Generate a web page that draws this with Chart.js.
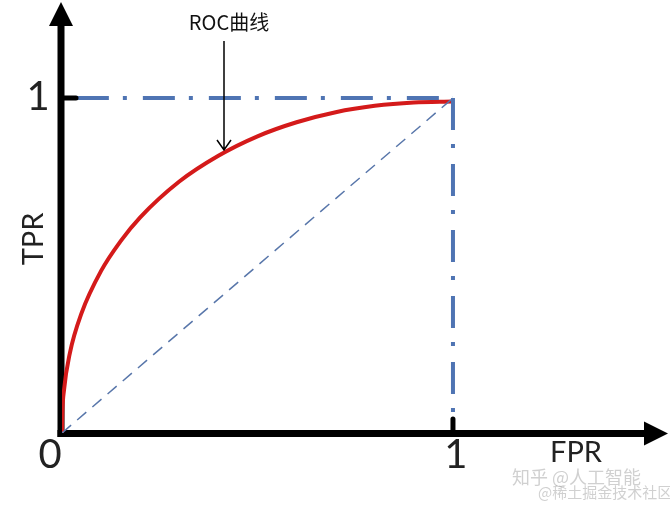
<!DOCTYPE html>
<html>
<head>
<meta charset="utf-8">
<script src="https://cdn.jsdelivr.net/npm/chart.js@4"></script>
<style>
  body { margin: 0; background: #fff; }
</style>
</head>
<body>
<canvas id="rocChart" width="670" height="507"></canvas>
<script>
// ROC curve (FPR -> TPR), smoothed by hand
const rocFpr = [0, 0.001, 0.005, 0.02, 0.05, 0.1, 0.15, 0.2, 0.3, 0.4, 0.5, 0.6, 0.7, 0.8, 0.9, 1];
const rocTpr = [0, 0.061, 0.127, 0.238, 0.358, 0.484, 0.573, 0.644, 0.751, 0.828, 0.886, 0.928, 0.958, 0.977, 0.987, 0.99];

// random guess diagonal
const diagFpr = [0, 1];
const diagTpr = [0, 1];

// dash-dot guide lines at TPR = 1 and FPR = 1
const hGuideFpr = [0.038, 1];
const hGuideTpr = [1, 1];
const vGuideFpr = [1, 1];
const vGuideTpr = [1, 0.05];

const xTickValues = [1];
const yTickValues = [1];
const tickLabels = { 0: '0', 1: '1' };
const xTitle = 'FPR';
const yTitle = 'TPR';
const curveNote = 'ROC曲线';
const watermark = ['知乎 @人工智能', '@稀土掘金技术社区'];

const X_MAX = 1.55;
const Y_MAX = 1.287;

function toPoints(xs, ys) {
    return xs.map((x, i) => ({ x: x, y: ys[i] }));
}

// axes, arrows, ticks and texts are drawn by hand on the chart scales
const axesPlugin = {
    id: 'axesPlugin',
    beforeDatasetsDraw(chart) {
        const ctx = chart.ctx;
        const xs = chart.scales.x, ys = chart.scales.y;
        const x0 = xs.getPixelForValue(0) - 1;
        const y0 = ys.getPixelForValue(0) + 0.5;
        ctx.save();
        ctx.strokeStyle = '#000';
        ctx.fillStyle = '#000';
        ctx.lineWidth = 7;
        ctx.lineCap = 'butt';
        // y axis
        ctx.beginPath();
        ctx.moveTo(x0, y0 + 3.5);
        ctx.lineTo(x0, 22);
        ctx.stroke();
        ctx.beginPath();
        ctx.moveTo(x0, 2);
        ctx.lineTo(x0 - 12, 26);
        ctx.lineTo(x0 + 12, 26);
        ctx.closePath();
        ctx.fill();
        // x axis
        ctx.beginPath();
        ctx.moveTo(x0 - 3.5, y0);
        ctx.lineTo(648, y0);
        ctx.stroke();
        ctx.beginPath();
        ctx.moveTo(668, y0);
        ctx.lineTo(644, y0 - 12);
        ctx.lineTo(644, y0 + 12);
        ctx.closePath();
        ctx.fill();
        ctx.restore();
    },
    afterDatasetsDraw(chart) {
        const ctx = chart.ctx;
        const xs = chart.scales.x, ys = chart.scales.y;
        const x0 = xs.getPixelForValue(0);
        const y0 = ys.getPixelForValue(0);
        ctx.save();
        // tick marks
        ctx.strokeStyle = '#000';
        ctx.lineWidth = 5;
        ctx.lineCap = 'round';
        yTickValues.forEach(v => {
            const py = ys.getPixelForValue(v);
            ctx.beginPath();
            ctx.moveTo(x0 + 2, py);
            ctx.lineTo(x0 + 14, py);
            ctx.stroke();
        });
        xTickValues.forEach(v => {
            const px = xs.getPixelForValue(v);
            ctx.beginPath();
            ctx.moveTo(px, y0 - 2);
            ctx.lineTo(px, y0 - 14);
            ctx.stroke();
        });

        // tick labels
        ctx.fillStyle = '#222';
        ctx.font = '40px Lato, "Liberation Sans", sans-serif';
        ctx.textAlign = 'center';
        ctx.textBaseline = 'middle';
        yTickValues.forEach(v => {
            ctx.fillText(tickLabels[v], x0 - 24, ys.getPixelForValue(v) - 1);
        });
        xTickValues.forEach(v => {
            ctx.fillText(tickLabels[v], xs.getPixelForValue(v) + 3, y0 + 22);
        });
        ctx.fillText(tickLabels[0], x0 - 12, y0 + 22);

        // axis titles
        ctx.font = '29px Lato, "Liberation Sans", sans-serif';
        ctx.fillText(xTitle, 576, y0 + 20);
        ctx.save();
        ctx.translate(34, 239);
        ctx.rotate(-Math.PI / 2);
        ctx.fillText(yTitle, 0, 0);
        ctx.restore();

        // annotation with arrow pointing at the curve
        ctx.fillStyle = '#111';
        ctx.font = '20px "Noto Sans CJK SC", sans-serif';
        ctx.fillText(curveNote, 229, 22);
        const ax = 224, ay = 150;
        ctx.strokeStyle = '#000';
        ctx.lineWidth = 1.5;
        ctx.lineCap = 'butt';
        ctx.beginPath();
        ctx.moveTo(ax, 41);
        ctx.lineTo(ax, ay);
        ctx.moveTo(ax - 7, ay - 10);
        ctx.lineTo(ax, ay);
        ctx.lineTo(ax + 7, ay - 10);
        ctx.stroke();

        // watermark
        ctx.textAlign = 'left';
        ctx.textBaseline = 'alphabetic';
        ctx.fillStyle = 'rgba(150,150,150,0.45)';
        ctx.font = '18px "Noto Sans CJK SC", sans-serif';
        ctx.fillText(watermark[0], 512, 484);
        ctx.font = '15px "Noto Sans CJK SC", sans-serif';
        ctx.fillText(watermark[1], 538, 498);
        ctx.restore();
    }
};

const ctx = document.getElementById('rocChart').getContext('2d');
const rocChart = new Chart(ctx, {
    type: 'scatter',
    data: {
        datasets: [{
            label: 'diag',
            data: toPoints(diagFpr, diagTpr),
            showLine: true,
            borderColor: '#5876aa',
            borderWidth: 1.5,
            borderDash: [12, 8],
            pointRadius: 0
        }, {
            label: 'hGuide',
            data: toPoints(hGuideFpr, hGuideTpr),
            showLine: true,
            borderColor: '#4f74b3',
            borderWidth: 4,
            borderDash: [32, 14, 4, 16],
            pointRadius: 0
        }, {
            label: 'vGuide',
            data: toPoints(vGuideFpr, vGuideTpr),
            showLine: true,
            borderColor: '#4f74b3',
            borderWidth: 4,
            borderDash: [32, 14, 4, 16],
            pointRadius: 0
        }, {
            label: 'ROC',
            data: toPoints(rocFpr, rocTpr),
            showLine: true,
            borderColor: '#d41a1a',
            borderWidth: 4,
            cubicInterpolationMode: 'monotone',
            pointRadius: 0
        }]
    },
    options: {
        responsive: false,
        animation: false,
        layout: { padding: { left: 62, right: 2, top: 2, bottom: 74 } },
        plugins: {
            legend: { display: false },
            tooltip: { enabled: false }
        },
        scales: {
            x: { type: 'linear', min: 0, max: X_MAX, display: false },
            y: { type: 'linear', min: 0, max: Y_MAX, display: false }
        }
    },
    plugins: [axesPlugin]
});
</script>
</body>
</html>
